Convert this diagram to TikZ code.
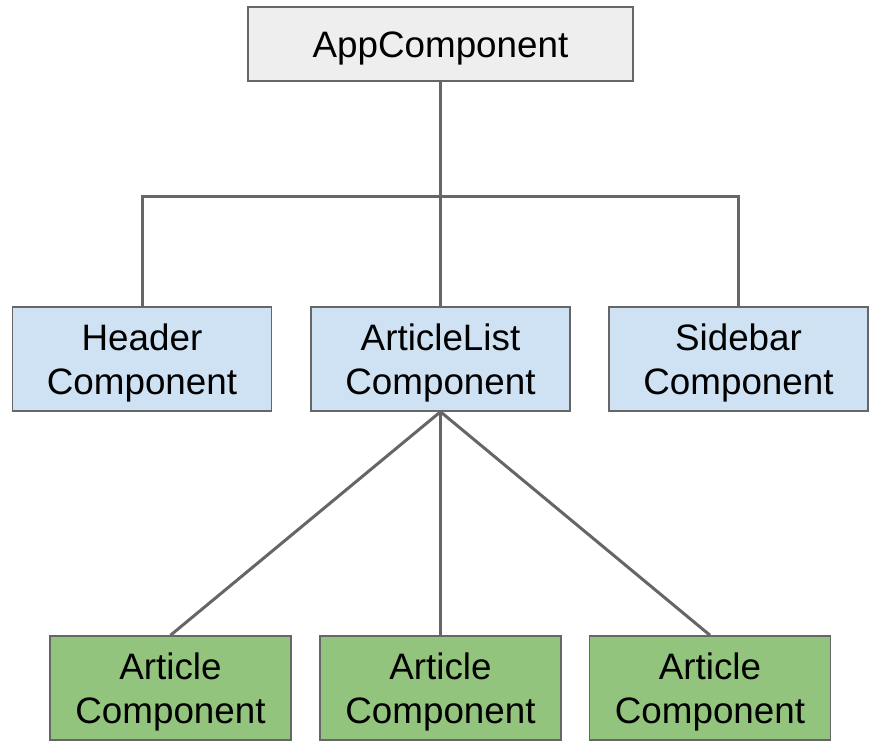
\documentclass[tikz,border=0pt]{standalone}
\usepackage{fontspec}
\setmainfont{Liberation Sans}
\definecolor{boxline}{HTML}{666666}
\definecolor{appfill}{HTML}{EEEEEE}
\definecolor{midfill}{HTML}{CFE2F3}
\definecolor{leaffill}{HTML}{93C47D}
\begin{document}
\begin{tikzpicture}[x=1pt,y=-1pt,
    comp/.style={draw=boxline,line width=1.5pt,align=center,inner sep=0pt,
      font=\fontsize{36.8}{44}\selectfont,text height=70.3pt,text depth=0pt},
    link/.style={draw=boxline,line width=3pt}]
  \useasboundingbox (0,0) rectangle (871,740);

  \node[comp,fill=appfill,minimum width=385pt,minimum height=74pt,text height=26.3pt] (app) at (440.5,44) {AppComponent};

  \node[comp,fill=midfill,minimum width=259pt,minimum height=104pt] (header)  at (142,359)   {Header\\Component};
  \node[comp,fill=midfill,minimum width=259pt,minimum height=104pt] (list)    at (440.5,359) {ArticleList\\Component};
  \node[comp,fill=midfill,minimum width=259pt,minimum height=104pt] (sidebar) at (738.5,359) {Sidebar\\Component};

  \foreach \n/\x in {1/170.5,2/440.5,3/710} {
    \node[comp,fill=leaffill,minimum width=241pt,minimum height=104pt] (article\n) at (\x,688) {Article\\Component};
  }

  % tree links
  \coordinate (bus) at (440.5,196);
  \draw[link] (app.south) -- (list.north);
  \draw[link] (header.north) |- (bus) -| (sidebar.north);
  \foreach \n in {1,2,3} {
    \draw[link] (list.south) -- (article\n.north);
  }
\end{tikzpicture}
\end{document}
